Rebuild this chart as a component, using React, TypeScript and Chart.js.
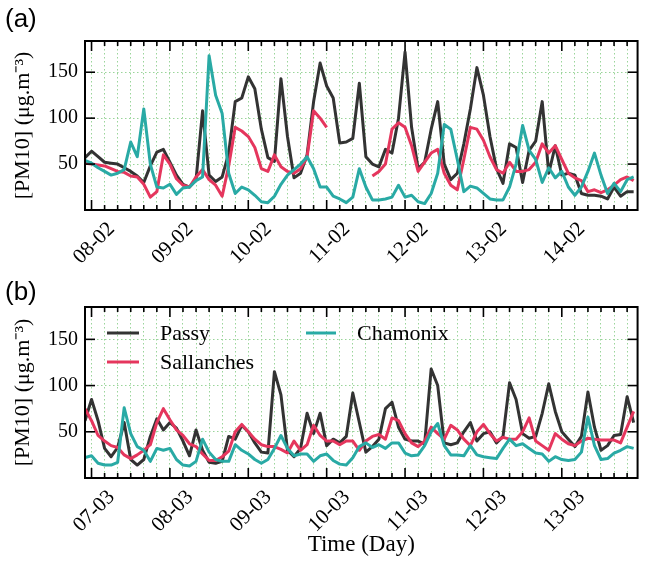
import { useEffect, useRef } from 'react';
import { Chart, registerables } from 'chart.js';

Chart.register(...registerables);

// ---- time axis (hours since day 0, 00:00) ----
const START_HOUR = 22;
const STEP_HOURS = 2;
const X_MIN = 22;
const X_MAX = 191.2;

const STATIONS = ['Passy', 'Sallanches', 'Chamonix'];
const COLORS = ['#333333', '#e5365d', '#29aaa5'];

const DAY_TICK_HOURS = [24, 48, 72, 96, 120, 144, 168];
const DAY_LABELS_A = ['08-02', '09-02', '10-02', '11-02', '12-02', '13-02', '14-02'];
const DAY_LABELS_B = ['07-03', '08-03', '09-03', '10-03', '11-03', '12-03', '13-03'];
const MINOR_STEP_HOURS = 4;
const Y_TICKS = [50, 100, 150];

const Y_TITLE = '[PM10] (\u03bcg.m\u207b\u00b3)';
const X_TITLE = 'Time (Day)';

// ---- panel (a) : February, 2-hourly values from 07-02 22:00 ----
const PASSY_A = [
  57, 64, 58, 52, 51, 50, 46, 42, 37, 30,
  48, 63, 66, 52, 38, 28, 25, 33, 108, 38,
  31, 36, 62, 118, 122, 145, 132, 88, 57, 53,
  143, 80, 35, 40, 60, 118, 160, 135, 122, 73,
  74, 78, 138, 58, 50, 47, 66, 62, 100, 172,
  90, 45, 52, 88, 118, 50, 33, 40, 72, 110,
  155, 125, 80, 45, 29, 72, 68, 30, 65, 75,
  118, 40, 70, 38, 40, 38, 18, 16, 16, 15,
  12, 25, 15, 20, 20,
];
const SALLANCHES_A = [
  51, 50, 49, 48, 45, 42, 41, 37, 36, 28,
  14, 20, 60, 50, 34, 27, 25, 36, 44, 33,
  27, 15, 48, 90, 86, 80, 68, 45, 42, 60,
  47, 42, 40, 45, 58, 108, 100, 90, null, null,
  null, null, null, null, 37, 42, 50, 88, 95, 90,
  70, 42, 52, 62, 66, 40, 27, 22, 55, 90,
  88, 76, 58, 44, 40, 52, 42, 42, 44, 52,
  72, 62, 70, 55, 40, 35, 32, 20, 22, 19,
  22, 27, 33, 36, 32,
];
const CHAMONIX_A = [
  54, 51, 46, 42, 38, 40, 44, 74, 58, 110,
  50, 25, 24, 28, 17, 24, 25, 32, 36, 168,
  125, 105, 40, 18, 25, 22, 16, 9, 8, 15,
  28, 38, 44, 50, 58, 45, 25, 25, 15, 12,
  8, 14, 45, 25, 11, 11, 12, 14, 27, 14,
  16, 9, 7, 18, 40, 93, 88, 55, 20, 26,
  24, 18, 12, 11, 11, 25, 50, 92, 65, 55,
  30, 46, 35, 42, 25, 16, 25, 42, 62, 38,
  18, 29, 20, 33, 36,
];

// ---- panel (b) : March, 2-hourly values from 06-03 22:00 ----
const PASSY_B = [
  62, 85, 62, 32, 23, 33, 60, 20, 14, 20,
  45, 64, 52, 60, 54, 40, 24, 52, 30, 17,
  16, 18, 45, 42, 57, 50, 38, 28, 27, 115,
  90, 30, 23, 32, 70, 48, 70, 35, 42, 38,
  45, 92, 60, 28, 34, 42, 75, 82, 55, 42,
  40, 40, 37, 118, 100, 38, 36, 38, 50, 60,
  40, 48, 50, 38, 45, 103, 85, 48, 43, 45,
  70, 102, 72, 50, 42, 34, 45, 93, 55, 30,
  35, 46, 47, 88, 60,
];
const SALLANCHES_B = [
  75, 62, 46, 40, 35, 33, 25, 21, 25, 30,
  36, 60, 75, 63, 52, 46, 37, 34, 26, 19,
  19, 23, 29, 50, 58, 50, 42, 36, 34, 34,
  31, 27, 40, 30, 36, 57, 46, 40, 40, 36,
  40, 40, 30, 40, 45, 47, 42, 65, 62, 48,
  38, 34, 40, 55, 48, 42, 57, 52, 42, 35,
  50, 58, 48, 40, 44, 42, 42, 50, 65, 40,
  35, 30, 48, 42, 37, 35, 40, 43, 42, 41,
  41, 41, 38, 55, 72,
];
const CHAMONIX_B = [
  22, 24, 16, 14, 14, 17, 76, 48, 34, 30,
  18, 32, 30, 32, 20, 14, 13, 18, 42, 28,
  20, 18, 18, 36, 30, 26, 20, 16, 20, 32,
  46, 32, 24, 26, 26, 18, 24, 26, 19, 15,
  14, 22, 34, 38, 33, 36, 32, 38, 38, 27,
  24, 25, 35, 50, 59, 35, 25, 25, 24, 35,
  25, 23, 22, 21, 32, 42, 35, 37, 32, 27,
  26, 18, 23, 20, 19, 20, 28, 66, 35, 20,
  21, 27, 30, 34, 32,
];

const SERIF = '"Liberation Serif", "Times New Roman", serif';
const SANS = '"Liberation Sans", Arial, sans-serif';
const GRID_COLOR = '#9ad59a';
const CANVAS_W = 652;

const minorTicks: number[] = [];
for (let h = 24; h <= 190; h += MINOR_STEP_HOURS) minorTicks.push(h);

type LegendItem = { x0: number; x1: number; y: number; tx: number; ty: number };

const framePlugin = {
  id: 'frame',
  afterDraw(chart: any, _args: any, opts: any) {
    const { ctx, chartArea: a, scales } = chart;
    const xs = scales.x;
    const ys = scales.y;
    ctx.save();
    ctx.strokeStyle = '#000';
    ctx.lineWidth = 2;
    ctx.strokeRect(a.left, a.top, a.right - a.left, a.bottom - a.top);
    ctx.lineWidth = 1.6;
    const seg = (x1: number, y1: number, x2: number, y2: number) => {
      ctx.beginPath();
      ctx.moveTo(x1, y1);
      ctx.lineTo(x2, y2);
      ctx.stroke();
    };
    for (const t of xs.ticks) {
      const px = xs.getPixelForValue(t.value);
      const len = DAY_TICK_HOURS.includes(t.value) ? 10 : 5;
      seg(px, a.bottom, px, a.bottom - len);
      seg(px, a.top, px, a.top + len);
    }
    for (const t of ys.ticks) {
      const py = ys.getPixelForValue(t.value);
      seg(a.left, py, a.left + 10, py);
      seg(a.right, py, a.right - 10, py);
    }
    // panel letter
    ctx.fillStyle = '#000';
    ctx.font = `26px ${SANS}`;
    ctx.textAlign = 'left';
    ctx.textBaseline = 'alphabetic';
    ctx.fillText(opts.letter, 5, opts.letterBaseline);
    // legend
    if (opts.legend) {
      const items: LegendItem[] = opts.legend;
      chart.data.datasets.forEach((ds: any, i: number) => {
        const it = items[i];
        ctx.strokeStyle = ds.borderColor;
        ctx.lineWidth = 3;
        seg(it.x0, it.y, it.x1, it.y);
        ctx.fillStyle = '#000';
        ctx.font = `22px ${SERIF}`;
        ctx.fillText(ds.label, it.tx, it.ty);
      });
    }
    ctx.restore();
  },
};

type PanelProps = {
  top: number;
  height: number;
  areaTop: number;
  areaBottom: number;
  yMax: number;
  series: (number | null)[][];
  dayLabels: string[];
  letter: string;
  letterBaseline: number;
  legend?: LegendItem[];
  xTitle?: string;
};

function Panel(p: PanelProps) {
  const ref = useRef<HTMLCanvasElement>(null);
  useEffect(() => {
    const datasets = p.series.map((vals, i) => ({
      label: STATIONS[i],
      data: vals.map((v, k) => ({ x: START_HOUR + k * STEP_HOURS, y: v })),
      borderColor: COLORS[i],
      backgroundColor: COLORS[i],
      borderWidth: 3,
      pointRadius: 0,
      tension: 0,
      spanGaps: false,
      fill: false,
      order: 3 - i,
      clip: 0,
      borderJoinStyle: 'round',
      borderCapStyle: 'butt',
    }));
    const tickFont = { family: SERIF, size: 20 };
    const chart = new Chart(ref.current as HTMLCanvasElement, {
      type: 'line',
      data: { datasets } as any,
      options: {
        responsive: false,
        animation: false,
        devicePixelRatio: 1,
        layout: { padding: { top: p.areaTop, right: 3, left: 0, bottom: 0 } },
        plugins: {
          legend: { display: false },
          tooltip: { enabled: false },
          frame: { letter: p.letter, letterBaseline: p.letterBaseline, legend: p.legend },
        } as any,
        scales: {
          x: {
            type: 'linear',
            min: X_MIN,
            max: X_MAX,
            afterBuildTicks: (s: any) => {
              s.ticks = minorTicks.map((v) => ({ value: v }));
            },
            afterFit: (s: any) => {
              s.height = p.height - p.areaBottom;
            },
            grid: { color: GRID_COLOR, lineWidth: 1, drawTicks: false },
            border: { display: false, dash: [1.5, 2.5] },
            ticks: {
              autoSkip: false,
              minRotation: 45,
              maxRotation: 45,
              padding: 7,
              labelOffset: 20,
              color: '#000',
              font: { family: SERIF, size: 21 },
              callback: (v: any) => {
                const idx = DAY_TICK_HOURS.indexOf(Number(v));
                return idx >= 0 ? p.dayLabels[idx] : '';
              },
            },
            title: p.xTitle
              ? { display: true, text: p.xTitle, color: '#000', font: { family: SERIF, size: 23 }, padding: { top: 0, bottom: 3 } }
              : { display: false },
          },
          y: {
            min: 0,
            max: p.yMax,
            afterBuildTicks: (s: any) => {
              s.ticks = Y_TICKS.map((v) => ({ value: v }));
            },
            afterFit: (s: any) => {
              s.width = 85;
            },
            grid: { color: GRID_COLOR, lineWidth: 1, drawTicks: false },
            border: { display: false, dash: [1.5, 2.5] },
            ticks: { padding: 7, color: '#000', font: tickFont, callback: (v: any) => String(v) },
            title: { display: true, text: Y_TITLE, color: '#000', font: { family: SERIF, size: 22 }, padding: { top: 10, bottom: 0 } },
          },
        },
      } as any,
      plugins: [framePlugin as any],
    });
    return () => chart.destroy();
  }, []);
  return (
    <canvas
      ref={ref}
      width={CANVAS_W}
      height={p.height}
      style={{ position: 'absolute', left: 0, top: p.top, width: CANVAS_W, height: p.height }}
    />
  );
}

export default function App() {
  return (
    <div style={{ position: 'fixed', left: 0, top: 0, width: 647, height: 562, overflow: 'hidden', background: '#fff' }}>
      <Panel
        top={0}
        height={276}
        areaTop={41}
        areaBottom={210}
        yMax={184}
        series={[PASSY_A, SALLANCHES_A, CHAMONIX_A]}
        dayLabels={DAY_LABELS_A}
        letter="(a)"
        letterBaseline={27}
      />
      <Panel
        top={262}
        height={300}
        areaTop={45}
        areaBottom={216}
        yMax={185}
        series={[PASSY_B, SALLANCHES_B, CHAMONIX_B]}
        dayLabels={DAY_LABELS_B}
        letter="(b)"
        letterBaseline={38}
        legend={[
          { x0: 107, x1: 139, y: 71, tx: 160, ty: 78 },
          { x0: 107, x1: 139, y: 100, tx: 160, ty: 107 },
          { x0: 306, x1: 336, y: 71, tx: 357, ty: 78 },
        ]}
        xTitle={X_TITLE}
      />
    </div>
  );
}
